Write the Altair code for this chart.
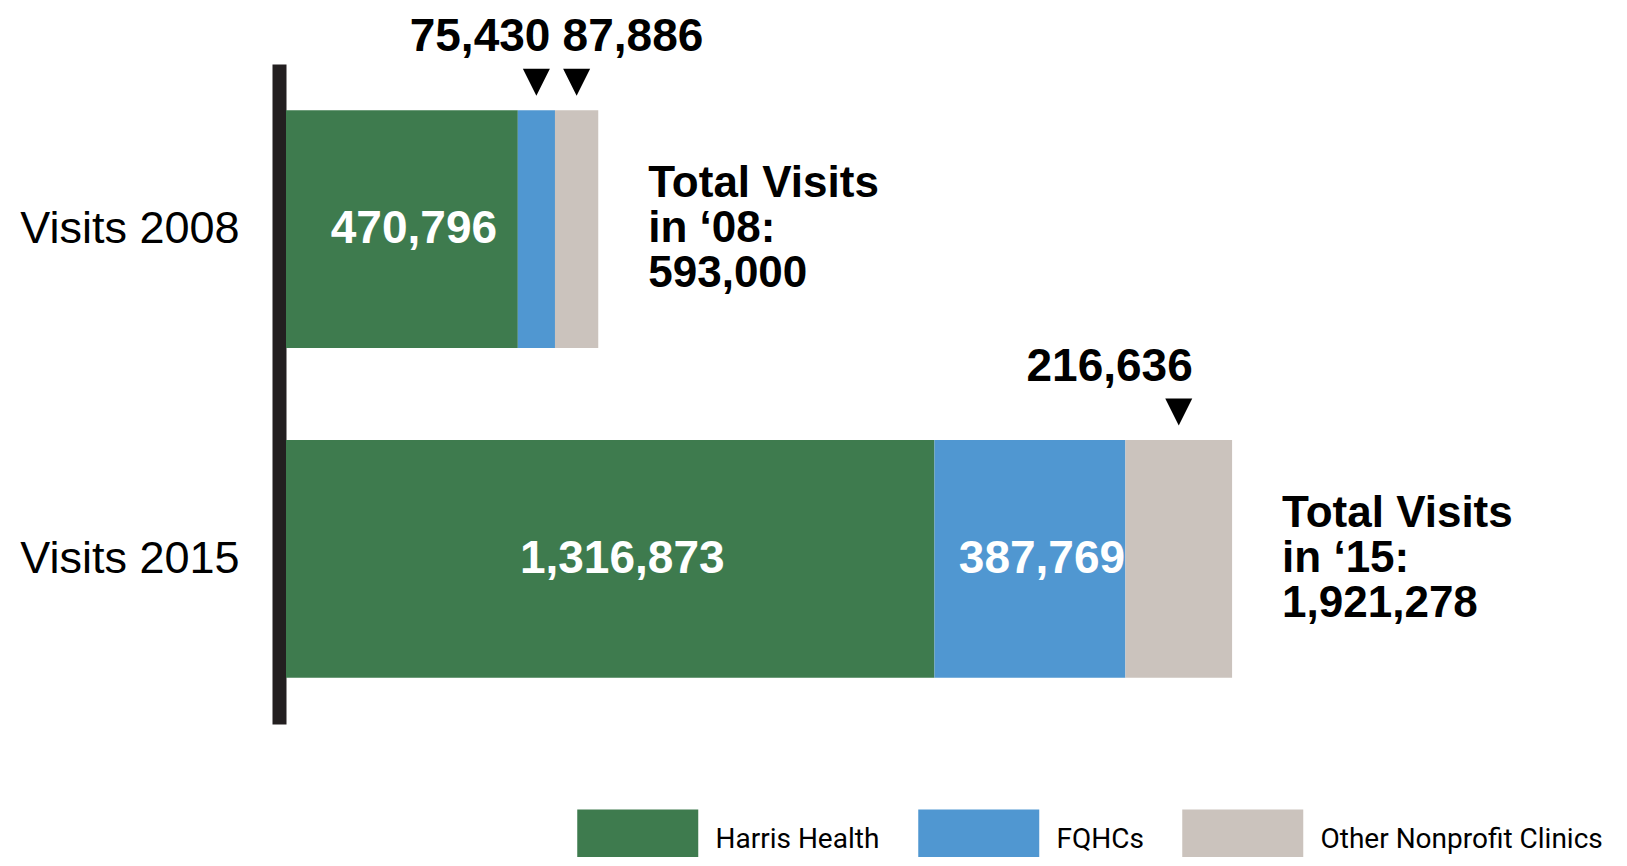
import altair as alt
import pandas as pd

# ---- data ----
years = ["Visits 2008", "Visits 2015"]
year_short = ["08", "15"]
providers = ["Harris Health", "FQHCs", "Other Nonprofit Clinics"]
colors = ["#3e7b4e", "#5097d1", "#cbc3bd"]
visits_2008 = [470796, 75430, 87886]
visits_2015 = [1316873, 387769, 216636]
total_labels = ["593,000", "1,921,278"]

rows = []
for yr, vals in zip(years, [visits_2008, visits_2015]):
    for i, (p, v) in enumerate(zip(providers, vals)):
        rows.append({"year": yr, "provider": p, "order": i, "visits": v})
seg = pd.DataFrame(rows)

tot = pd.DataFrame({
    "year": years,
    "total": [sum(visits_2008), sum(visits_2015)],
    "label": [f"Total Visits\nin \u2018{s}:\n{t}" for s, t in zip(year_short, total_labels)],
})

x_scale = alt.Scale(domain=[0, 2640000], nice=False, zero=True)
y_scale = alt.Scale(paddingInner=0.279, paddingOuter=0.14)
y_axis = alt.Axis(title=None, domainWidth=14, domainColor="#231f20", offset=7,
                  ticks=False, grid=False, labelFontSize=45, labelFont="Liberation Sans",
                  labelColor="black", labelPadding=40, labelLimit=400)


def y_enc(band=0.5):
    return alt.Y("year:N", sort=years, scale=y_scale, axis=y_axis, bandPosition=band)


base = alt.Chart(seg).transform_stack(
    stack="visits", groupby=["year"], as_=["x0", "x1"],
    sort=[alt.SortField("order", order="ascending")]
).transform_calculate(mid="(datum.x0 + datum.x1) / 2")

bars = base.mark_bar().encode(
    x=alt.X("x0:Q", scale=x_scale, axis=None),
    x2="x1:Q",
    y=y_enc(),
    color=alt.Color(
        "provider:N",
        scale=alt.Scale(domain=providers, range=colors),
        legend=alt.Legend(
            title=None, orient="none", legendX=321.25, legendY=745,
            direction="horizontal", symbolType="M-2,-1H2V1H-2Z",
            symbolSize=3660.25, symbolStrokeWidth=0, symbolOpacity=1,
            labelFont="Roboto", labelFontSize=28, labelColor="black",
            labelOffset=47.25, columnPadding=38, padding=0, labelLimit=500,
        ),
    ),
)

text_style = dict(font="Liberation Sans", fontWeight="bold")

inside = base.transform_filter("datum.visits >= 300000").mark_text(
    color="white", fontSize=46, baseline="middle", align="center", dx=12, **text_style
).encode(
    x=alt.X("mid:Q", scale=x_scale, axis=None),
    y=y_enc(),
    text=alt.Text("visits:Q", format=","),
)

above_right = base.transform_filter(
    "datum.visits < 300000 && !(datum.year == 'Visits 2008' && datum.order == 2)"
).mark_text(
    color="black", fontSize=46, baseline="alphabetic", align="right", dx=14, dy=-59, **text_style
).encode(
    x=alt.X("mid:Q", scale=x_scale, axis=None),
    y=y_enc(0),
    text=alt.Text("visits:Q", format=","),
)

above_left = base.transform_filter(
    "datum.year == 'Visits 2008' && datum.order == 2"
).mark_text(
    color="black", fontSize=46, baseline="alphabetic", align="left", dx=-14, dy=-59, **text_style
).encode(
    x=alt.X("mid:Q", scale=x_scale, axis=None),
    y=y_enc(0),
    text=alt.Text("visits:Q", format=","),
)

triangles = base.transform_filter("datum.visits < 300000").mark_point(
    shape="M-1,-1L1,-1L0,1Z", filled=True, color="black", opacity=1, size=729, strokeWidth=0
).encode(
    x=alt.X("mid:Q", scale=x_scale, axis=None),
    y=y_enc(0),
    yOffset=alt.value(-28),
)

totals = alt.Chart(tot).mark_text(
    color="black", align="left", baseline="middle", dx=50, dy=-45, fontSize=44,
    lineHeight=45, lineBreak="\n", **text_style
).encode(
    x=alt.X("total:Q", scale=x_scale, axis=None),
    y=y_enc(),
    text="label:N",
)

chart = alt.layer(bars, inside, above_right, above_left, triangles, totals).properties(
    width=1300, height=660,
    padding={"left": 278, "top": 56, "right": 30, "bottom": 133},
    autosize=alt.AutoSizeParams(type="none"),
).configure_view(stroke=None)

chart.save("out.html", embed_options={"renderer": "svg", "actions": False})
